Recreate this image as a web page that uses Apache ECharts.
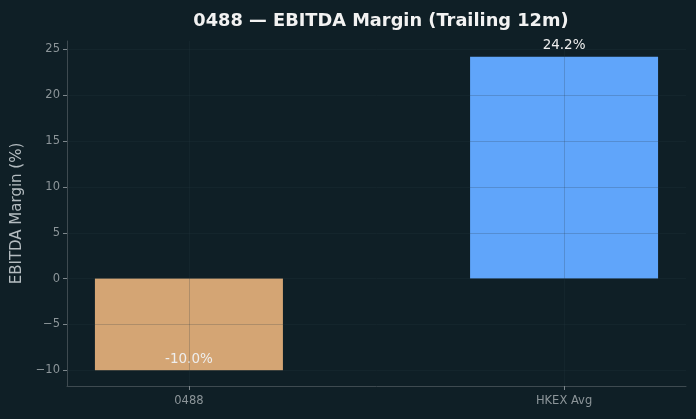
<!DOCTYPE html>
<html lang="en">
<head>
  <meta charset="UTF-8">
  <title>EBITDA Margin</title>
  <script src="https://cdn.jsdelivr.net/npm/echarts@6/dist/echarts.min.js"></script>
  <style>
    html, body { margin: 0; padding: 0; background: #0f1f26; }
    #chart { width: 696px; height: 419px; }
  </style>
</head>
<body>
  <div id="chart"></div>
  <script>
    // data
    const categories = ['0488', 'HKEX Avg'];
    const margins = [-10.0, 24.2];
    const barColors = ['#d4a574', '#60a5fa'];
    const yTicks = [-10, -5, 0, 5, 10, 15, 20, 25];

    const font = 'DejaVu Sans';
    const gridColor = 'rgba(40, 58, 68, 0.22)';

    const chart = echarts.init(document.getElementById('chart'));

    const option = {
      backgroundColor: '#0f1f26',
      animation: false,
      title: {
        text: '0488 — EBITDA Margin (Trailing 12m)',
        left: 376, top: 7, textAlign: 'center',
        textStyle: { color: '#f2f2f2', fontFamily: font, fontWeight: 'bold', fontSize: 17.8 }
      },
      grid: { left: 67, right: 10, top: 41, bottom: 33 },
      xAxis: {
        type: 'value', min: -0.325, max: 1.325, z: 5,
        axisLine: { show: true, onZero: false, lineStyle: { color: '#3e4a50' } },
        axisTick: { show: true, length: 4, customValues: [0, 1], lineStyle: { color: '#7d878c' } },
        axisLabel: {
          customValues: [0, 1], color: '#8c9599', fontFamily: font, fontSize: 11.5, margin: 9,
          formatter: v => categories[Math.round(v)]
        },
        splitLine: { show: true, lineStyle: { color: gridColor, width: 1 } }
      },
      yAxis: {
        type: 'value', min: -11.71, max: 25.91, z: 5,
        name: 'EBITDA Margin (%)', nameLocation: 'middle', nameGap: 42,
        nameTextStyle: { color: '#b4bcc0', fontFamily: font, fontSize: 15 },
        axisLine: { show: true, onZero: false, lineStyle: { color: '#3e4a50' } },
        axisTick: { show: true, length: 4, customValues: yTicks, lineStyle: { color: '#7d878c' } },
        axisLabel: {
          customValues: yTicks, color: '#8c9599', fontFamily: font, fontSize: 11.5, margin: 7,
          formatter: v => String(v).replace('-', '\u2212')
        },
        splitLine: { show: true, lineStyle: { color: gridColor, width: 1 } }
      },
      series: [{
        type: 'bar', z: 1, barWidth: 188,
        data: margins.map((v, i) => ({
          value: [i, v],
          itemStyle: { color: barColors[i] },
          label: {
            show: true,
            position: v >= 0 ? 'top' : 'insideBottom',
            distance: 4,
            formatter: v.toFixed(1) + '%',
            color: '#eeeeee', fontFamily: font, fontSize: 13.5
          }
        }))
      }]
    };

    chart.setOption(option);
  </script>
</body>
</html>
